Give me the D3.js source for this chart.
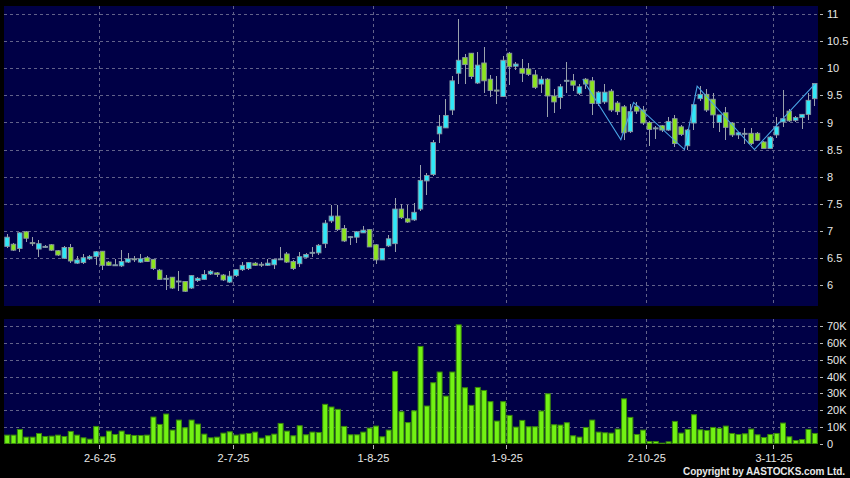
<!DOCTYPE html>
<html lang="en">

<head>
    <meta charset="utf-8" />
    <title>Daily candlestick chart with volume</title>
    <script src="https://d3js.org/d3.v7.min.js"></script>
    <style>
        body {
            margin: 0;
            background: #000;
        }

        #chart {
            width: 850px;
            height: 478px;
        }

        text {
            font-family: Arial, "Liberation Sans", sans-serif;
            fill: #e8e8e8;
        }
    </style>
</head>

<body>
    <div id="chart"></div>
    <script>
        // daily prices, one entry per trading day (oldest first)
        var opens = [6.71, 6.75, 6.67, 6.98, 6.78, 6.66, 6.71, 6.74, 6.63, 6.49, 6.69, 6.40, 6.41, 6.48, 6.52, 6.62,
            6.42, 6.37, 6.35, 6.42, 6.48, 6.42, 6.50, 6.47, 6.27, 6.12, 6.14, 6.07, 6.06, 5.94, 6.08, 6.10,
            6.20, 6.22, 6.18, 6.05, 6.17, 6.28, 6.30, 6.40, 6.38, 6.36, 6.37, 6.48, 6.57, 6.43, 6.39, 6.51,
            6.60, 6.59, 6.76, 7.18, 7.27, 7.04, 6.89, 6.88, 6.96, 7.02, 6.74, 6.46, 6.72, 6.76, 7.40, 7.22,
            7.20, 7.40, 7.92, 8.04, 8.79, 8.90, 9.23, 9.91, 10.20, 10.28, 9.73, 10.10, 9.80, 9.60, 9.48, 10.28,
            10.04, 10.00, 9.99, 9.88, 9.71, 9.80, 9.49, 9.46, 9.78, 9.77, 9.54, 9.80, 9.77, 9.35, 9.38, 9.58,
            9.36, 9.29, 8.83, 9.30, 9.23, 9.00, 8.90, 8.94, 8.86, 9.07, 8.92, 8.57, 8.99, 9.44, 9.52, 9.43,
            9.00, 9.18, 8.99, 8.77, 8.80, 8.80, 8.80, 8.64, 8.52, 8.77, 9.01, 9.21, 9.04, 9.09, 9.15, 9.44];
        var highs = [6.94, 6.77, 6.97, 7.00, 6.88, 6.82, 6.74, 6.76, 6.64, 6.72, 6.76, 6.54, 6.56, 6.55, 6.63, 6.63,
            6.44, 6.47, 6.65, 6.59, 6.53, 6.56, 6.53, 6.48, 6.30, 6.19, 6.15, 6.25, 6.07, 6.18, 6.15, 6.28,
            6.28, 6.24, 6.20, 6.25, 6.30, 6.42, 6.43, 6.43, 6.42, 6.48, 6.48, 6.69, 6.60, 6.45, 6.60, 6.59,
            6.70, 6.75, 7.20, 7.48, 7.48, 7.10, 6.91, 6.99, 7.09, 7.03, 6.75, 6.68, 6.92, 7.61, 7.50, 7.48,
            7.52, 8.21, 8.07, 8.67, 9.13, 9.44, 9.85, 10.91, 10.27, 10.29, 10.30, 10.40, 9.87, 9.85, 10.22, 10.30,
            10.12, 10.18, 10.10, 9.97, 9.85, 9.82, 9.61, 9.71, 10.12, 9.90, 9.72, 9.82, 9.84, 9.58, 9.72, 9.62,
            9.40, 9.32, 9.35, 9.37, 9.30, 9.02, 8.94, 8.96, 9.10, 9.14, 8.95, 8.88, 9.35, 9.67, 9.62, 9.55,
            9.14, 9.29, 9.00, 8.83, 8.89, 8.89, 8.82, 8.66, 8.75, 9.10, 9.60, 9.25, 9.12, 9.16, 9.54, 9.72];
        var lows = [6.68, 6.62, 6.60, 6.80, 6.72, 6.52, 6.68, 6.63, 6.54, 6.48, 6.40, 6.39, 6.39, 6.45, 6.36, 6.27,
            6.34, 6.35, 6.33, 6.40, 6.42, 6.40, 6.42, 6.28, 6.08, 5.91, 5.93, 5.88, 5.86, 5.93, 6.05, 6.09,
            6.18, 6.14, 6.07, 6.04, 6.14, 6.26, 6.27, 6.34, 6.33, 6.34, 6.30, 6.45, 6.40, 6.28, 6.33, 6.50,
            6.51, 6.55, 6.68, 7.14, 7.00, 6.80, 6.74, 6.78, 6.95, 6.69, 6.38, 6.45, 6.70, 6.61, 7.22, 7.14,
            7.18, 7.36, 7.66, 8.02, 8.63, 8.89, 9.13, 9.72, 9.71, 9.80, 9.71, 9.55, 9.47, 9.34, 9.47, 9.70,
            9.97, 9.75, 9.85, 9.62, 9.55, 9.10, 9.18, 9.24, 9.54, 9.59, 9.50, 9.62, 9.14, 9.30, 9.35, 9.20,
            9.13, 8.67, 8.80, 9.15, 8.95, 8.57, 8.70, 8.82, 8.84, 8.55, 8.75, 8.50, 8.86, 9.40, 9.20, 8.90,
            8.83, 8.68, 8.74, 8.70, 8.60, 8.58, 8.65, 8.52, 8.51, 8.72, 8.92, 9.00, 9.00, 8.88, 9.05, 9.30];
        var closes = [6.88, 6.64, 6.96, 6.86, 6.76, 6.76, 6.71, 6.64, 6.55, 6.69, 6.44, 6.46, 6.50, 6.52, 6.61, 6.36,
            6.36, 6.37, 6.43, 6.48, 6.47, 6.48, 6.43, 6.30, 6.10, 6.12, 5.94, 6.07, 5.88, 6.17, 6.12, 6.19,
            6.25, 6.19, 6.09, 6.16, 6.28, 6.36, 6.41, 6.36, 6.37, 6.40, 6.47, 6.48, 6.42, 6.30, 6.52, 6.56,
            6.60, 6.73, 7.14, 7.27, 7.02, 6.81, 6.89, 6.98, 7.01, 6.70, 6.46, 6.67, 6.85, 7.40, 7.24, 7.16,
            7.34, 7.93, 8.02, 8.63, 8.93, 9.13, 9.77, 10.15, 10.07, 9.85, 10.06, 9.77, 9.59, 9.58, 10.15, 10.03,
            10.08, 9.91, 9.89, 9.65, 9.80, 9.49, 9.38, 9.66, 9.78, 9.69, 9.66, 9.71, 9.35, 9.56, 9.56, 9.23,
            9.20, 8.81, 9.20, 9.21, 8.99, 8.87, 8.90, 8.86, 9.02, 8.61, 8.78, 8.86, 9.33, 9.52, 9.23, 9.14,
            9.14, 8.91, 8.77, 8.81, 8.80, 8.61, 8.67, 8.52, 8.73, 8.92, 9.07, 9.03, 9.09, 9.15, 9.41, 9.72];
        // daily turnover in shares
        var volumes = [5000, 5000, 8400, 3800, 3800, 6000, 4200, 4400, 5000, 4200, 7200, 5000, 3400, 2600, 10200, 4000,
            7400, 5400, 7400, 5400, 4800, 4800, 5000, 15800, 11400, 17600, 8000, 14000, 9400, 14000, 11600, 5600,
            3400, 3800, 6200, 7000, 5000, 5600, 6000, 6800, 3200, 4600, 5600, 12000, 7400, 4600, 10600, 5200,
            6800, 6600, 23400, 21800, 20400, 10200, 5200, 5200, 6800, 9200, 10400, 4000, 8000, 43000, 19000, 12500,
            19500, 58000, 22400, 36300, 42700, 28300, 42700, 70900, 33300, 22800, 33500, 31700, 25000, 13400, 25000, 16800,
            9800, 13800, 10000, 10000, 19400, 29700, 11200, 11000, 12400, 4600, 3800, 9600, 14000, 6800, 6400, 6200,
            8600, 26700, 15600, 5400, 8000, 1200, 1200, 200, 1000, 13200, 6200, 8400, 17200, 8200, 7800, 9600,
            9000, 10400, 6000, 5400, 5800, 8600, 5200, 3600, 5400, 6000, 12200, 4000, 1800, 2400, 8400, 6000];

        // zigzag overlay: day index and price of each turning point
        var zigIndex = [91, 97, 99, 107, 109, 118, 127.5];
        var zigPrice = [9.80, 8.68, 9.37, 8.50, 9.67, 8.50, 9.71];

        // date axis
        var dateTickIndex = [15, 36, 58, 79, 101, 121];
        var dateTickLabels = ['2-6-25', '2-7-25', '1-8-25', '1-9-25', '2-10-25', '3-11-25'];

        var priceTicks = [6, 6.5, 7, 7.5, 8, 8.5, 9, 9.5, 10, 10.5, 11];
        var volumeTicks = [0, 10000, 20000, 30000, 40000, 50000, 60000, 70000];

        (function(d3) {
            'use strict';

            var width = 850;
            var height = 478;
            var left = 4;
            var right = 818;
            var priceTop = 6;
            var priceBottom = 306;
            var volTop = 319;
            var volBottom = 444;

            var upColor = '#30e8f8';
            var downColor = '#8ce41e';
            var edgeColor = '#8a96a2';
            var gridColor = '#62628a';

            var n = opens.length;

            var svg = d3.select('#chart')
                .append('svg')
                .attr('width', width)
                .attr('height', height);

            svg.append('rect')
                .attr('width', width)
                .attr('height', height)
                .attr('fill', '#000');

            // day index -> left edge of that day's slot
            var x = d3.scaleLinear()
                .domain([0, n])
                .range([left, right]);
            var step = x(1) - x(0);

            var y = d3.scaleLinear()
                .domain([5.608, 11.153])
                .range([priceBottom, priceTop]);

            var yVol = d3.scaleLinear()
                .domain([0, 74400])
                .range([volBottom - 0.5, volTop]);

            // panels
            svg.append('rect')
                .attr('x', left)
                .attr('y', priceTop)
                .attr('width', right - left)
                .attr('height', priceBottom - priceTop)
                .attr('fill', '#000046');

            svg.append('rect')
                .attr('x', left)
                .attr('y', volTop)
                .attr('width', right - left)
                .attr('height', volBottom - volTop)
                .attr('fill', '#000046');

            // grid lines
            var grid = svg.append('g')
                .attr('stroke', gridColor)
                .attr('stroke-width', 1)
                .attr('stroke-dasharray', '3,3')
                .attr('shape-rendering', 'crispEdges');

            grid.selectAll('.hp')
                .data(priceTicks)
                .enter()
                .append('line')
                .attr('x1', left)
                .attr('x2', right)
                .attr('y1', function(d) { return Math.round(y(d)) + 0.5; })
                .attr('y2', function(d) { return Math.round(y(d)) + 0.5; });

            grid.selectAll('.hv')
                .data(volumeTicks.slice(1))
                .enter()
                .append('line')
                .attr('x1', left)
                .attr('x2', right)
                .attr('y1', function(d) { return Math.round(yVol(d)) + 0.5; })
                .attr('y2', function(d) { return Math.round(yVol(d)) + 0.5; });

            grid.selectAll('.vp')
                .data(dateTickIndex)
                .enter()
                .append('line')
                .attr('x1', function(d) { return Math.round(x(d)) + 0.5; })
                .attr('x2', function(d) { return Math.round(x(d)) + 0.5; })
                .attr('y1', priceTop)
                .attr('y2', priceBottom);

            grid.selectAll('.vv')
                .data(dateTickIndex)
                .enter()
                .append('line')
                .attr('x1', function(d) { return Math.round(x(d)) + 0.5; })
                .attr('x2', function(d) { return Math.round(x(d)) + 0.5; })
                .attr('y1', volTop)
                .attr('y2', volBottom);

            var days = d3.range(n);

            // wicks
            svg.append('g')
                .attr('stroke', '#9aa2ac')
                .attr('shape-rendering', 'crispEdges')
                .selectAll('line')
                .data(days)
                .enter()
                .append('line')
                .attr('x1', function(i) { return Math.floor(x(i) + step / 2) + 0.5; })
                .attr('x2', function(i) { return Math.floor(x(i) + step / 2) + 0.5; })
                .attr('y1', function(i) { return y(highs[i]); })
                .attr('y2', function(i) { return y(lows[i]); });

            // bodies
            svg.append('g')
                .selectAll('rect')
                .data(days)
                .enter()
                .append('rect')
                .attr('x', function(i) { return x(i) + 0.8; })
                .attr('width', step - 1.8)
                .attr('y', function(i) { return y(Math.max(opens[i], closes[i])); })
                .attr('height', function(i) {
                    return Math.max(1, Math.abs(y(opens[i]) - y(closes[i])));
                })
                .attr('fill', function(i) {
                    return closes[i] >= opens[i] ? upColor : downColor;
                })
                .attr('stroke', edgeColor)
                .attr('stroke-width', 0.9);

            // zigzag
            var zigLine = d3.line()
                .x(function(d) { return x(d[0]); })
                .y(function(d) { return y(d[1]); });

            svg.append('path')
                .datum(d3.zip(zigIndex, zigPrice))
                .attr('d', zigLine)
                .attr('fill', 'none')
                .attr('stroke', '#4aa6e6')
                .attr('stroke-width', 1.1);

            // volume bars
            svg.append('g')
                .selectAll('rect')
                .data(days)
                .enter()
                .append('rect')
                .attr('x', function(i) { return x(i) + 0.7; })
                .attr('width', step - 1.4)
                .attr('y', function(i) { return yVol(volumes[i]); })
                .attr('height', function(i) { return yVol(0) - yVol(volumes[i]); })
                .attr('fill', '#72f214')
                .attr('stroke', '#3a8a0a')
                .attr('stroke-width', 1);

            // axes
            var priceAxis = d3.axisRight(y)
                .tickValues(priceTicks)
                .tickSize(3)
                .tickPadding(4)
                .tickFormat(function(d) { return String(d); });

            var volAxis = d3.axisRight(yVol)
                .tickValues(volumeTicks)
                .tickSize(3)
                .tickPadding(4)
                .tickFormat(function(d) { return d === 0 ? '0' : (d / 1000) + 'K'; });

            var dateAxis = d3.axisBottom(x)
                .tickValues(dateTickIndex)
                .tickSize(4)
                .tickPadding(5)
                .tickFormat(function(d, i) { return dateTickLabels[i]; });

            function styleAxis(g) {
                g.select('.domain').remove();
                g.selectAll('.tick line')
                    .attr('stroke', '#b8b8b8')
                    .attr('shape-rendering', 'crispEdges');
                g.selectAll('.tick text')
                    .attr('fill', '#e8e8e8')
                    .style('font-size', '11px')
                    .style('font-family', 'Arial, "Liberation Sans", sans-serif');
            }

            svg.append('g')
                .attr('transform', 'translate(' + (right + 2) + ',0)')
                .call(priceAxis)
                .call(styleAxis);

            svg.append('g')
                .attr('transform', 'translate(' + (right + 2) + ',0)')
                .call(volAxis)
                .call(styleAxis);

            svg.append('g')
                .attr('transform', 'translate(0,' + (volBottom + 1) + ')')
                .call(dateAxis)
                .call(styleAxis);

            svg.append('text')
                .attr('x', 845)
                .attr('y', 474.5)
                .attr('text-anchor', 'end')
                .attr('textLength', 162)
                .attr('lengthAdjust', 'spacing')
                .style('font-size', '10px')
                .style('font-weight', 'bold')
                .text('Copyright by AASTOCKS.com Ltd.');
        })(window.d3);
    </script>
</body>

</html>
